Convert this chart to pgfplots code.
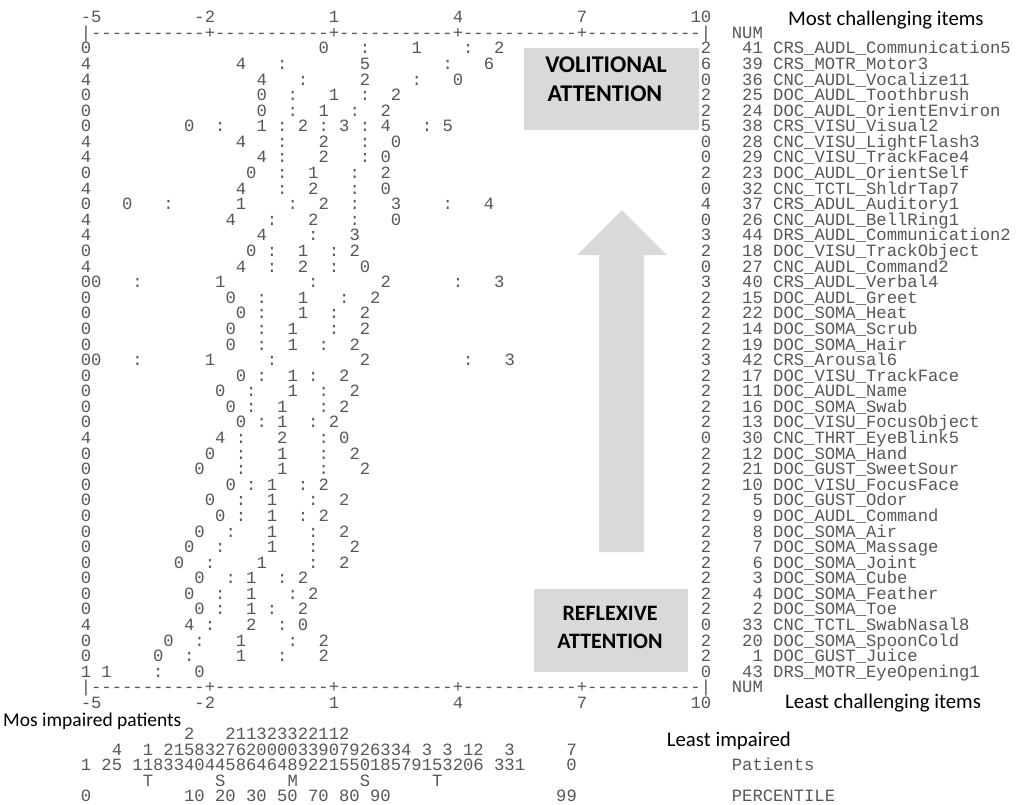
\documentclass[border=0pt]{standalone}
\usepackage{fontspec}
\setmonofont{Liberation Mono}
\newfontfamily\calib{Carlito}
\usepackage{pgfplots}
\pgfplotsset{compat=1.18}
\definecolor{monotxt}{gray}{0.34}
\definecolor{boxgray}{RGB}{217,217,217}
\newcommand\mapfont{\ttfamily\fontsize{17.22}{18}\selectfont}
\newcommand\sansfont{\calib\fontsize{20.8}{22}\selectfont}
\newcommand\sansfontb{\calib\fontsize{19.5}{21}\selectfont}
\newcommand\boldfont{\calib\bfseries\fontsize{24}{26}\selectfont}
\newcommand\boldfontb{\calib\bfseries\fontsize{22}{24}\selectfont}
% pixel position of the reference -> axis coordinates (logit, row)
\newcommand\PX[2]{(axis cs:{-5+(#1-86)/41.3333},{(#2-32.715)/15.585})}
\pgfplotsset{
  txtplot/.style={only marks, mark=none, point meta=explicit symbolic,
    nodes near coords,
    every node near coord/.append style={font=\mapfont, text=monotxt,
      inner sep=0pt, outer sep=0pt, anchor=#1, yshift=-5.6pt}},
}
\begin{document}
\begin{tikzpicture}
\begin{axis}[name=ax, scale only axis, width=1021pt, height=804pt,
  xmin=-7.0806, xmax=17.621, ymin=-2.0991, ymax=49.489, y dir=reverse,
  hide axis, clip=false]

% gray overlays
\fill[boxgray] \PX{524}{48} rectangle \PX{699}{130};
\fill[boxgray] \PX{534}{589} rectangle \PX{688}{672};
\fill[boxgray] \PX{599}{552} -- \PX{599}{255} -- \PX{577}{255} -- \PX{622}{210}
  -- \PX{667}{255} -- \PX{644}{255} -- \PX{644}{552} -- cycle;

% axis rules, headers and tick labels (character grid: 0.25 logit per column)
\addplot[txtplot=base west] coordinates {
 (-5.125,0)[|-----------+-----------+-----------+-----------+-----------|]
 (-5.125,42)[|-----------+-----------+-----------+-----------+-----------|]
};
\addplot[txtplot=base east] coordinates {
 (11.375,0)[NUM] (11.375,42)[NUM]
 (-4.625,-1)[-5] (-1.875,-1)[-2] (1.125,-1)[1] (4.125,-1)[4] (7.125,-1)[7] (10.125,-1)[10]
 (-4.625,43)[-5] (-1.875,43)[-2] (1.125,43)[1] (4.125,43)[4] (7.125,43)[7] (10.125,43)[10]
};

% expected-score item map: (logit, row)[category or threshold]
\addplot[txtplot=base] coordinates {
 (-5,1)[0] (0.75,1)[0] (1.75,1)[:] (3,1)[1] (4.25,1)[:] (5,1)[2] (10,1)[2]
 (-5,2)[4] (-1.25,2)[4] (-0.25,2)[:] (1.75,2)[5] (3.75,2)[:] (4.75,2)[6] (10,2)[6]
 (-5,3)[4] (-0.75,3)[4] (0.25,3)[:] (1.75,3)[2] (3,3)[:] (4,3)[0] (10,3)[0]
 (-5,4)[0] (-0.75,4)[0] (0,4)[:] (1,4)[1] (1.75,4)[:] (2.5,4)[2] (10,4)[2]
 (-5,5)[0] (-0.75,5)[0] (0,5)[:] (0.75,5)[1] (1.5,5)[:] (2.25,5)[2] (10,5)[2]
 (-5,6)[0] (-2.5,6)[0] (-1.75,6)[:] (-0.75,6)[1] (-0.25,6)[:] (0.25,6)[2] (0.75,6)[:] (1.25,6)[3] (1.75,6)[:] (2.25,6)[4] (3.25,6)[:] (3.75,6)[5] (10,6)[5]
 (-5,7)[4] (-1.25,7)[4] (-0.25,7)[:] (0.75,7)[2] (1.75,7)[:] (2.5,7)[0] (10,7)[0]
 (-5,8)[4] (-0.75,8)[4] (-0.25,8)[:] (0.75,8)[2] (1.75,8)[:] (2.25,8)[0] (10,8)[0]
 (-5,9)[0] (-1,9)[0] (-0.25,9)[:] (0.5,9)[1] (1.5,9)[:] (2.25,9)[2] (10,9)[2]
 (-5,10)[4] (-1.25,10)[4] (-0.25,10)[:] (0.5,10)[2] (1.5,10)[:] (2.25,10)[0] (10,10)[0]
 (-5,11)[0] (-4,11)[0] (-3,11)[:] (-1.25,11)[1] (0,11)[:] (0.75,11)[2] (1.5,11)[:] (2.5,11)[3] (3.75,11)[:] (4.75,11)[4] (10,11)[4]
 (-5,12)[4] (-1.5,12)[4] (-0.5,12)[:] (0.5,12)[2] (1.5,12)[:] (2.5,12)[0] (10,12)[0]
 (-5,13)[4] (-0.75,13)[4] (0.5,13)[:] (1.5,13)[3] (10,13)[3]
 (-5,14)[0] (-1,14)[0] (-0.5,14)[:] (0.25,14)[1] (1,14)[:] (1.5,14)[2] (10,14)[2]
 (-5,15)[4] (-1.25,15)[4] (-0.5,15)[:] (0.25,15)[2] (1,15)[:] (1.75,15)[0] (10,15)[0]
 (-5,16)[0] (-4.75,16)[0] (-3.75,16)[:] (-1.75,16)[1] (0.5,16)[:] (2.25,16)[2] (4,16)[:] (5,16)[3] (10,16)[3]
 (-5,17)[0] (-1.5,17)[0] (-0.75,17)[:] (0.25,17)[1] (1.25,17)[:] (2,17)[2] (10,17)[2]
 (-5,18)[0] (-1.25,18)[0] (-0.75,18)[:] (0.25,18)[1] (1,18)[:] (1.75,18)[2] (10,18)[2]
 (-5,19)[0] (-1.5,19)[0] (-0.75,19)[:] (0,19)[1] (1,19)[:] (1.75,19)[2] (10,19)[2]
 (-5,20)[0] (-1.5,20)[0] (-0.75,20)[:] (0,20)[1] (0.75,20)[:] (1.5,20)[2] (10,20)[2]
 (-5,21)[0] (-4.75,21)[0] (-3.75,21)[:] (-2,21)[1] (-0.5,21)[:] (1.75,21)[2] (4.25,21)[:] (5.25,21)[3] (10,21)[3]
 (-5,22)[0] (-1.25,22)[0] (-0.75,22)[:] (0,22)[1] (0.5,22)[:] (1.25,22)[2] (10,22)[2]
 (-5,23)[0] (-1.75,23)[0] (-1,23)[:] (0,23)[1] (0.75,23)[:] (1.5,23)[2] (10,23)[2]
 (-5,24)[0] (-1.5,24)[0] (-1,24)[:] (-0.25,24)[1] (0.75,24)[:] (1.25,24)[2] (10,24)[2]
 (-5,25)[0] (-1.25,25)[0] (-0.75,25)[:] (-0.25,25)[1] (0.5,25)[:] (1,25)[2] (10,25)[2]
 (-5,26)[4] (-1.75,26)[4] (-1.25,26)[:] (-0.25,26)[2] (0.75,26)[:] (1.25,26)[0] (10,26)[0]
 (-5,27)[0] (-2,27)[0] (-1.25,27)[:] (-0.25,27)[1] (0.75,27)[:] (1.5,27)[2] (10,27)[2]
 (-5,28)[0] (-2.25,28)[0] (-1.25,28)[:] (-0.25,28)[1] (0.75,28)[:] (1.75,28)[2] (10,28)[2]
 (-5,29)[0] (-1.5,29)[0] (-1,29)[:] (-0.5,29)[1] (0.25,29)[:] (0.75,29)[2] (10,29)[2]
 (-5,30)[0] (-2,30)[0] (-1.25,30)[:] (-0.5,30)[1] (0.5,30)[:] (1.25,30)[2] (10,30)[2]
 (-5,31)[0] (-1.75,31)[0] (-1.25,31)[:] (-0.5,31)[1] (0.25,31)[:] (0.75,31)[2] (10,31)[2]
 (-5,32)[0] (-2.25,32)[0] (-1.5,32)[:] (-0.5,32)[1] (0.5,32)[:] (1.25,32)[2] (10,32)[2]
 (-5,33)[0] (-2.5,33)[0] (-1.75,33)[:] (-0.5,33)[1] (0.5,33)[:] (1.5,33)[2] (10,33)[2]
 (-5,34)[0] (-2.75,34)[0] (-2,34)[:] (-0.75,34)[1] (0.5,34)[:] (1.25,34)[2] (10,34)[2]
 (-5,35)[0] (-2.25,35)[0] (-1.5,35)[:] (-1,35)[1] (-0.25,35)[:] (0.25,35)[2] (10,35)[2]
 (-5,36)[0] (-2.5,36)[0] (-1.75,36)[:] (-1,36)[1] (0,36)[:] (0.5,36)[2] (10,36)[2]
 (-5,37)[0] (-2.25,37)[0] (-1.75,37)[:] (-1,37)[1] (-0.5,37)[:] (0.25,37)[2] (10,37)[2]
 (-5,38)[4] (-2.5,38)[4] (-2,38)[:] (-1,38)[2] (-0.25,38)[:] (0.25,38)[0] (10,38)[0]
 (-5,39)[0] (-3,39)[0] (-2.25,39)[:] (-1.25,39)[1] (0,39)[:] (0.75,39)[2] (10,39)[2]
 (-5,40)[0] (-3.25,40)[0] (-2.5,40)[:] (-1.25,40)[1] (-0.25,40)[:] (0.75,40)[2] (10,40)[2]
 (-5,41)[1] (-4.5,41)[1] (-3.25,41)[:] (-2.25,41)[0] (10,41)[0]
};

% item entry numbers
\addplot[txtplot=base east] coordinates {
 (11.375,1)[41] (11.375,2)[39] (11.375,3)[36] (11.375,4)[25] (11.375,5)[24]
 (11.375,6)[38] (11.375,7)[28] (11.375,8)[29] (11.375,9)[23] (11.375,10)[32]
 (11.375,11)[37] (11.375,12)[26] (11.375,13)[44] (11.375,14)[18] (11.375,15)[27]
 (11.375,16)[40] (11.375,17)[15] (11.375,18)[22] (11.375,19)[14] (11.375,20)[19]
 (11.375,21)[42] (11.375,22)[17] (11.375,23)[11] (11.375,24)[16] (11.375,25)[13]
 (11.375,26)[30] (11.375,27)[12] (11.375,28)[21] (11.375,29)[10] (11.375,30)[5]
 (11.375,31)[9] (11.375,32)[8] (11.375,33)[7] (11.375,34)[6] (11.375,35)[3]
 (11.375,36)[4] (11.375,37)[2] (11.375,38)[33] (11.375,39)[20] (11.375,40)[1]
 (11.375,41)[43]
};
% item names
\addplot[txtplot=base west] coordinates {
 (11.625,1)[CRS\_AUDL\_Communication5] (11.625,2)[CRS\_MOTR\_Motor3]
 (11.625,3)[CNC\_AUDL\_Vocalize11] (11.625,4)[DOC\_AUDL\_Toothbrush]
 (11.625,5)[DOC\_AUDL\_OrientEnviron] (11.625,6)[CRS\_VISU\_Visual2]
 (11.625,7)[CNC\_VISU\_LightFlash3] (11.625,8)[CNC\_VISU\_TrackFace4]
 (11.625,9)[DOC\_AUDL\_OrientSelf] (11.625,10)[CNC\_TCTL\_ShldrTap7]
 (11.625,11)[CRS\_ADUL\_Auditory1] (11.625,12)[CNC\_AUDL\_BellRing1]
 (11.625,13)[DRS\_AUDL\_Communication2] (11.625,14)[DOC\_VISU\_TrackObject]
 (11.625,15)[CNC\_AUDL\_Command2] (11.625,16)[CRS\_AUDL\_Verbal4]
 (11.625,17)[DOC\_AUDL\_Greet] (11.625,18)[DOC\_SOMA\_Heat]
 (11.625,19)[DOC\_SOMA\_Scrub] (11.625,20)[DOC\_SOMA\_Hair]
 (11.625,21)[CRS\_Arousal6] (11.625,22)[DOC\_VISU\_TrackFace]
 (11.625,23)[DOC\_AUDL\_Name] (11.625,24)[DOC\_SOMA\_Swab]
 (11.625,25)[DOC\_VISU\_FocusObject] (11.625,26)[CNC\_THRT\_EyeBlink5]
 (11.625,27)[DOC\_SOMA\_Hand] (11.625,28)[DOC\_GUST\_SweetSour]
 (11.625,29)[DOC\_VISU\_FocusFace] (11.625,30)[DOC\_GUST\_Odor]
 (11.625,31)[DOC\_AUDL\_Command] (11.625,32)[DOC\_SOMA\_Air]
 (11.625,33)[DOC\_SOMA\_Massage] (11.625,34)[DOC\_SOMA\_Joint]
 (11.625,35)[DOC\_SOMA\_Cube] (11.625,36)[DOC\_SOMA\_Feather]
 (11.625,37)[DOC\_SOMA\_Toe] (11.625,38)[CNC\_TCTL\_SwabNasal8]
 (11.625,39)[DOC\_SOMA\_SpoonCold] (11.625,40)[DOC\_GUST\_Juice]
 (11.625,41)[DRS\_MOTR\_EyeOpening1]
};

% patient distribution (vertical digit counts), markers and percentiles
\addplot[txtplot=base west] coordinates {
 (-2.625,45)[2~~~211323322112]
 (-4.375,46)[4~~1~215832762000033907926334~3~3~12~~3~~~~~7]
 (-5.125,47)[1~25~1183340445864648922155018579153206~331~~~~0]
 (-5.125,49)[0] (-2.625,49)[10~20~30~50~70~80~90] (6.375,49)[99]
 (10.625,47)[Patients] (10.625,49)[PERCENTILE]
};
\addplot[txtplot=base] coordinates {
 (-3.5,48)[T] (-1.75,48)[S] (0,48)[M] (1.75,48)[S] (3.5,48)[T]
};

% annotations
\node[anchor=base, font=\boldfont, inner sep=0pt] at \PX{606}{72.7} {VOLITIONAL};
\node[anchor=base, font=\boldfont, inner sep=0pt] at \PX{605}{101.7} {ATTENTION};
\node[anchor=base, font=\boldfontb, inner sep=0pt] at \PX{610}{620} {REFLEXIVE};
\node[anchor=base, font=\boldfontb, inner sep=0pt] at \PX{610}{648.3} {ATTENTION};
\node[anchor=base west, font=\sansfont, inner sep=0pt] at \PX{788}{25} {Most challenging items};
\node[anchor=base west, font=\sansfont, inner sep=0pt] at \PX{785}{708.3} {Least challenging items};
\node[anchor=base west, font=\sansfontb, inner sep=0pt] at \PX{3}{726.5} {Mos impaired patients};
\node[anchor=base west, font=\sansfont, inner sep=0pt] at \PX{666.7}{746.7} {Least impaired};
\end{axis}
\pgfresetboundingbox
\path[use as bounding box] (ax.south west) rectangle (ax.north east);
\end{tikzpicture}
\end{document}
